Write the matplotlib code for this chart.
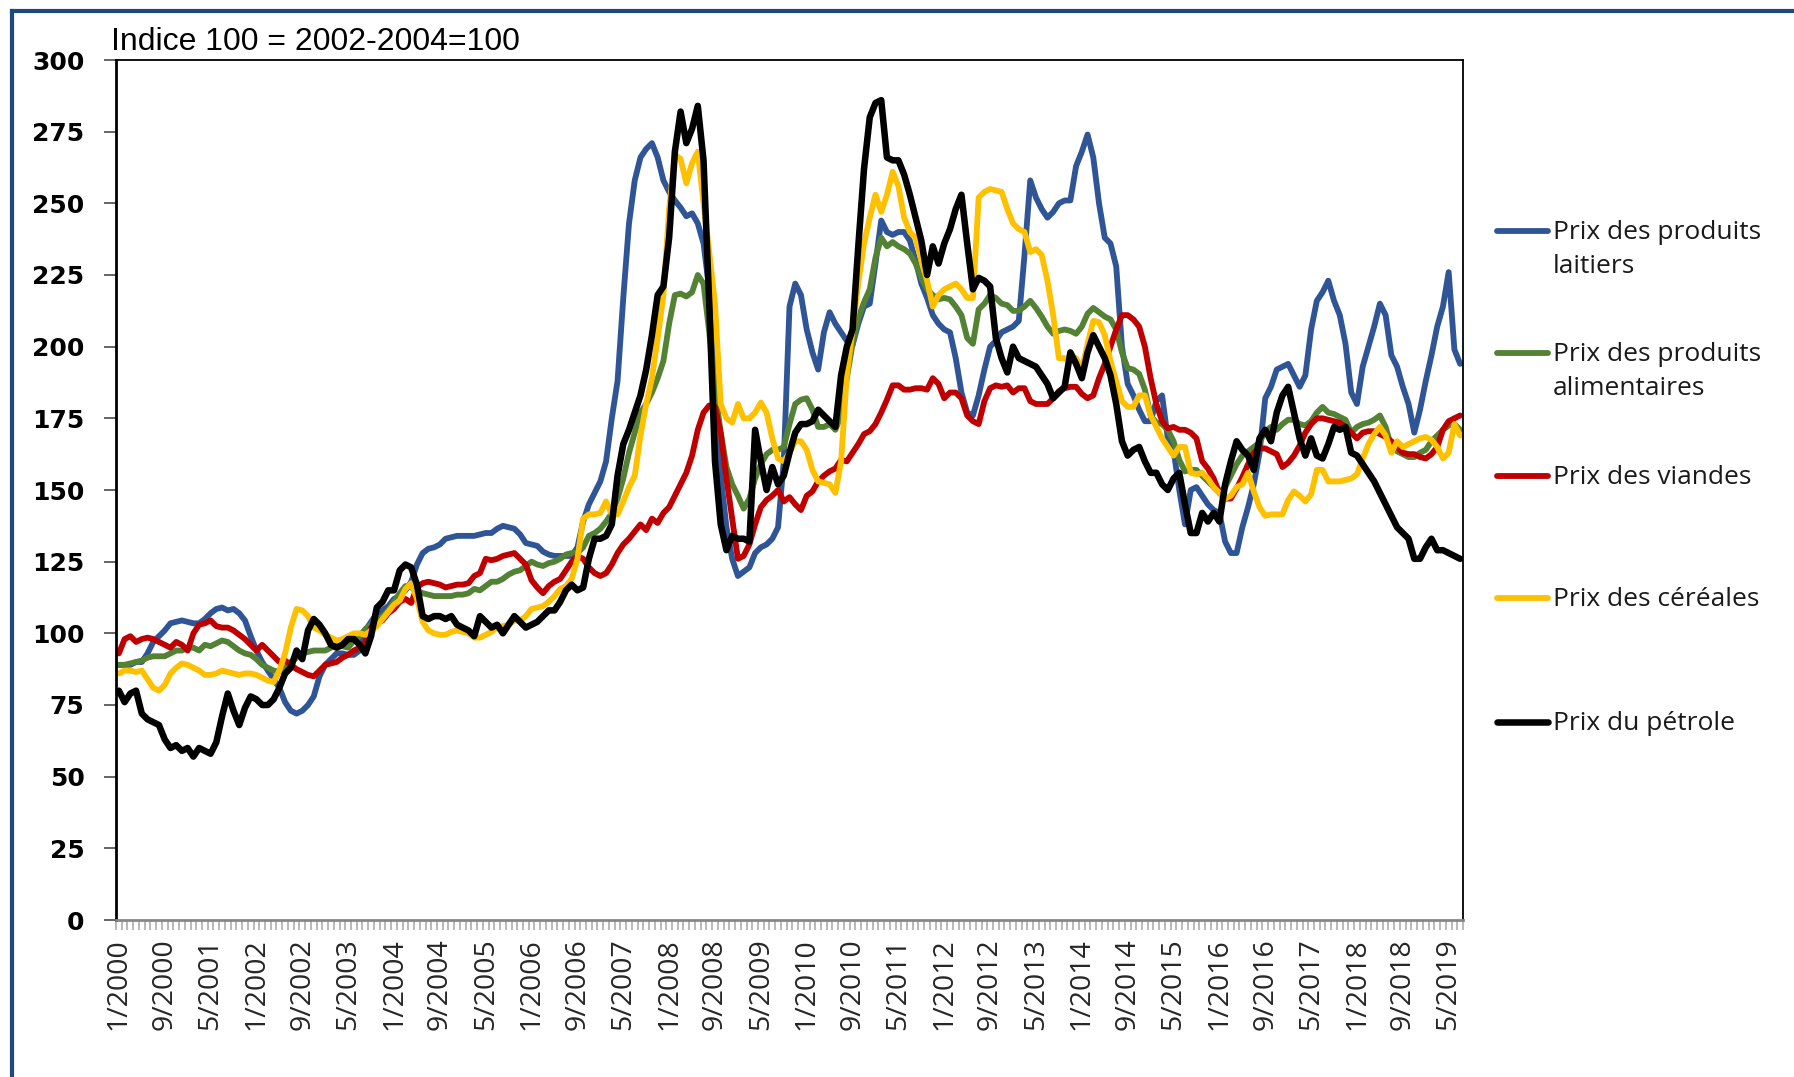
import matplotlib
matplotlib.use('Agg')
import matplotlib.pyplot as plt
from matplotlib.lines import Line2D
import numpy as np

# monthly values 1/2000 -> 7/2019, indice 2002-2004=100 (one row = one year)
laitiers = [
    89, 89, 89, 90, 90, 93, 97, 99, 101, 103.5, 104, 104.5,
    104, 103.5, 103.5, 105, 107, 108.5, 109, 108, 108.5, 107, 104.5, 99,
    94, 90, 87, 84, 81, 76, 73, 72, 73, 75, 78, 85,
    89, 91, 93, 93, 92.5, 92.5, 94, 101, 104, 107, 108, 109.5,
    112, 113, 115, 118, 124, 128, 129.5, 130, 131, 133, 133.5, 134,
    134, 134, 134, 134.5, 135, 135, 136.5, 137.5, 137, 136.5, 134.5, 131.5,
    131, 130.5, 128.5, 127.5, 127, 127, 127, 127, 130, 139, 145, 149,
    153, 160, 175, 188, 217, 243, 258, 266, 269, 271, 266, 258,
    254, 251, 248.5, 245.5, 246.5, 243, 236, 220, 189, 155, 137, 126,
    120, 121.5, 123, 128, 130, 131, 133, 137, 160, 214, 222, 218,
    206, 198, 192, 205, 212, 208, 205, 202, 200.5, 208, 214, 215,
    229, 244, 240, 239, 240, 240, 237, 230, 222, 217, 211, 208,
    206, 205, 196, 184, 177, 176, 183, 192, 200, 202, 205, 206,
    207, 209, 232, 258, 252, 248, 245, 247, 250, 251, 251, 263,
    268, 274, 266, 250, 238, 236, 228, 200, 187, 183, 178, 174,
    174, 181, 183, 168, 164, 150, 138, 150, 151, 148, 145, 143,
    142, 132, 128, 128, 137, 144, 152, 163, 182, 186, 192, 193,
    194, 190, 186, 190, 206, 216, 219, 223, 216, 211, 201, 184,
    180, 193, 200, 207, 215, 211, 197, 193, 186, 180, 170, 178,
    188, 197, 207, 214, 226, 199, 194,
]

alimentaires = [
    89, 89, 89.5, 90, 90.5, 91.5, 92, 92, 92, 93, 94, 94,
    95, 95, 94, 96, 95.5, 96.5, 97.5, 97, 95.5, 94, 93, 92.5,
    91, 89, 88, 87, 86.5, 88, 90, 91.5, 93, 93.5, 94, 94,
    94, 95, 96, 95.5, 95, 97.5, 99, 101.5, 103, 104.5, 106, 108,
    111, 114, 116.5, 116, 115, 114, 113.5, 113, 113, 113, 113, 113.5,
    113.5, 114, 115.5, 115, 116.5, 118, 118, 119, 120.5, 121.5, 122, 123.5,
    125, 124, 123.5, 124.5, 125, 126, 127.5, 128, 128, 130, 134, 135,
    136.5, 139, 142, 147, 154, 163, 170, 177, 180, 184, 189, 195,
    208, 218, 218.5, 217.5, 219, 225, 222, 205, 185, 170, 158, 152,
    148, 143.5, 147, 154, 159, 162.5, 164, 164, 165, 173, 180, 181.5,
    182, 178, 172, 172, 173, 171, 176, 189, 201, 210, 215.5, 220,
    231, 238, 235, 236.5, 235, 234, 232.5, 229, 224, 220, 218, 216.5,
    217, 216.5, 214, 211, 203, 201, 213, 215, 218, 217, 215, 214.5,
    212.5, 212.5, 214, 216, 213.5, 210.5, 207, 204.5, 205.5, 206, 205.5, 204.5,
    207, 211.5, 213.5, 212, 210.5, 209.5, 206, 198, 192.5, 192, 190.5, 185,
    176, 173.5, 173, 171, 167, 160.5, 156.5, 157, 157, 155, 153, 151,
    149, 151, 155, 159, 162, 163.5, 165, 166.5, 170.5, 172, 171, 173,
    174.5, 174.5, 173, 172.5, 174, 177, 179, 177, 176.5, 175.5, 174.5, 170,
    172, 173, 173.5, 174.5, 176, 172, 165, 163.5, 162.5, 161.5, 161.5, 163,
    164, 167, 169, 171, 172.5, 173, 171,
]

viandes = [
    93, 98, 99, 97, 98, 98.5, 98, 97, 96, 95, 97, 96,
    94, 100, 103, 103.5, 104.5, 102.5, 102, 102, 101, 99.5, 98, 96,
    94, 96, 94, 92, 90, 90.5, 89, 87.5, 86.5, 85.5, 85, 87,
    89, 89.5, 90, 91.5, 92.5, 94, 95, 97, 102, 103.5, 104.5, 107,
    108.5, 111, 112, 110.6, 116, 117.5, 118, 117.5, 117, 116, 116.5, 117,
    117, 117.5, 120, 121, 126, 125.5, 126, 127, 127.5, 128, 126, 124,
    118.5, 116, 114, 116.5, 118, 119, 122, 125, 127, 126, 123, 121,
    120, 121, 124, 128, 131, 133, 135.5, 138, 136, 140, 138.5, 142,
    144, 148, 152, 156, 162, 171, 177, 179.5, 179, 170, 154, 140,
    126, 127, 131, 138, 144, 146.5, 148, 150, 146, 147.5, 145, 143,
    148, 149.5, 153, 155, 156.5, 157.5, 160.5, 160, 163, 166, 169.5, 170.5,
    173, 177, 181.5, 186.5, 186.5, 185, 185, 185.5, 185.5, 185, 189, 187,
    182, 184, 184, 182, 176, 174, 173, 181, 185.5, 186.5, 186, 186.5,
    184, 185.5, 185.5, 181, 180, 180, 180, 182, 184.5, 185.5, 186, 186,
    183.5, 182, 183, 189, 194, 200, 206, 211, 211, 209.5, 207, 200,
    189, 180, 174, 171.5, 172, 171, 171, 170, 168, 160, 157.5, 154,
    149, 147, 147, 150.5, 154.5, 159, 163, 164.5, 164.5, 163.5, 162.5, 158,
    159.5, 162, 165.5, 170, 173, 175, 175, 174.5, 174, 173.5, 172, 170,
    168, 170, 170.5, 170.5, 169.5, 168.5, 167, 165, 163, 162.5, 162.5, 161.5,
    161, 162.5, 165, 171, 174, 175, 176,
]

cereales = [
    86, 87, 87, 86.5, 87, 84, 81, 80, 82, 86, 88, 89.5,
    89, 88, 87, 85.5, 85.5, 86, 87, 86.5, 86, 85.5, 86, 86,
    85.5, 84.5, 83.5, 83, 87, 93, 102, 108.5, 108, 106, 102, 101,
    99.5, 98.5, 97.5, 98, 99, 100, 100, 99.5, 101, 102.5, 105, 107.5,
    110, 111.5, 115.5, 117.5, 112, 104, 101, 100, 99.5, 99.5, 100.5, 101,
    100.5, 100, 98.5, 98.5, 99.5, 100.5, 102, 102.5, 103, 104.5, 104.5, 106,
    108.5, 109, 109.5, 111, 113, 115.5, 116.5, 119, 126, 140, 141.5, 141.5,
    142, 146, 141.5, 141.5, 146, 151, 155, 169, 180, 189, 203, 218,
    248, 267, 265.5, 257, 264, 268, 250, 233, 215, 180, 175, 173.5,
    180, 175, 175, 177, 180.5, 177, 168, 161, 160, 163, 167, 167,
    164, 157, 153, 152.5, 152, 149, 160, 190, 206, 222, 236, 245,
    253, 247, 253, 261, 256, 245, 240, 238, 230, 223, 214, 218,
    220, 221, 222, 220, 217, 217, 252, 254, 255, 254.5, 254, 248,
    243, 241, 240, 233, 234, 232, 223, 211, 196, 196, 195, 196,
    192, 201, 209, 208.5, 204, 195, 188, 181, 179, 179, 183, 183,
    176, 172, 168, 165, 162, 165, 165, 156, 155.5, 156, 154, 151,
    149, 147, 148, 151, 152, 156, 149.5, 144, 141, 141.5, 141.5, 141.5,
    146.5, 149.5, 148, 146, 148.5, 157, 157, 153, 153, 153, 153.5, 154,
    155.5, 161, 166, 169.5, 172, 169, 163, 167, 165, 166, 167, 168,
    168.5, 167.5, 165, 161, 163, 173, 169,
]

petrole = [
    80, 76, 79, 80, 72, 70, 69, 68, 63, 60, 61, 59,
    60, 57, 60, 59, 58, 62, 71, 79, 73, 68, 74, 78,
    77, 75, 75, 77, 81, 86, 88, 94, 91, 101, 105, 103,
    100, 96, 95, 96, 98, 98, 96, 93, 99, 109, 111, 115,
    115, 122, 124, 123, 117, 106, 105, 106, 106, 105, 106, 103,
    102, 101, 99, 106, 104, 102, 103, 100, 103, 106, 104, 102,
    103, 104, 106, 108, 108, 111, 115, 117, 115, 116, 126, 133,
    133, 134, 138, 155, 166, 171, 177, 183, 192, 204, 218, 221,
    238, 268, 282, 271, 276, 284, 265, 215, 160, 138, 129, 134,
    133, 133, 132, 171, 160, 150, 158, 152, 155, 163, 170, 173,
    173, 174, 178, 176, 174, 172, 190, 200, 206, 235, 262, 280,
    285, 286, 266, 265, 265, 260, 253, 245, 237, 225, 235, 229,
    236, 241, 248, 253, 236, 220, 224, 223, 221, 203, 196, 191,
    200, 196, 195, 194, 193, 190, 187, 182, 184, 186, 198, 194,
    189, 198, 204, 200, 196, 190, 180, 167, 162, 164, 165, 160,
    156, 156, 152, 150, 154, 156, 145, 135, 135, 142, 139, 142,
    139, 152, 160, 167, 164, 162, 157, 168, 171, 167, 177, 183,
    186, 177, 168, 162, 168, 162, 161, 166, 172, 171, 172, 163,
    162, 159, 156, 153, 149, 145, 141, 137, 135, 133, 126, 126,
    130, 133, 129, 129, 128, 127, 126,
]

tick_labels = ['1/2000', '9/2000', '5/2001', '1/2002', '9/2002', '5/2003',
               '1/2004', '9/2004', '5/2005', '1/2006', '9/2006', '5/2007',
               '1/2008', '9/2008', '5/2009', '1/2010', '9/2010', '5/2011',
               '1/2012', '9/2012', '5/2013', '1/2014', '9/2014', '5/2015',
               '1/2016', '9/2016', '5/2017', '1/2018', '9/2018', '5/2019']
tick_step = 8

series = [
    (['Prix des produits', 'laitiers'], laitiers, '#2F5597', 4.2),
    (['Prix des produits', 'alimentaires'], alimentaires, '#548235', 4.2),
    (['Prix des viandes'], viandes, '#C00000', 4.2),
    (['Prix des céréales'], cereales, '#FFC000', 4.2),
    (['Prix du pétrole'], petrole, '#000000', 4.7),
]

W, H = 1794, 1077
fx = lambda x: x / W
fy = lambda y: 1 - y / H

fig = plt.figure(figsize=(W / 100, H / 100), dpi=100)
ax = fig.add_axes([fx(116), fy(920), fx(1463) - fx(116), fy(60) - fy(920)])

months = np.arange(len(petrole))
for names, vals, color, lw in series:
    ax.plot(months, vals, color=color, lw=lw,
            solid_joinstyle='round', solid_capstyle='round')

ax.set_xlim(-0.5, len(months) - 0.5)
ax.set_ylim(0, 300)
ax.set_yticks(range(0, 301, 25))
ax.tick_params(axis='y', length=8.6, width=1.3, color='#595959', pad=14,
               labelsize=18)
for t in ax.get_yticklabels():
    t.set_fontweight('bold')
    t.set_family('DejaVu Sans')

ax.set_xticks(months[::tick_step])
ax.set_xticklabels(tick_labels, rotation=90, fontsize=20.5, family='Open Sans',
                   color='#262626')
ax.set_xticks(np.arange(-0.5, len(months), 1), minor=True)
ax.tick_params(axis='x', which='major', length=0, pad=13)
ax.tick_params(axis='x', which='minor', length=7, width=1.1, color='#A6A6A6')

for side in ['left', 'top', 'right']:
    ax.spines[side].set_color('black')
ax.spines['left'].set_linewidth(2)
ax.spines['top'].set_linewidth(1.3)
ax.spines['right'].set_linewidth(1.3)
ax.spines['bottom'].set_color('#868686')
ax.spines['bottom'].set_linewidth(2)

fig.text(fx(111), fy(50), 'Indice 100 = 2002-2004=100', fontsize=23,
         family='Liberation Sans', va='baseline')

# legend drawn on the right
legend_y = [231, 353, 476, 598, 722]
for (names, vals, color, lw), y in zip(series, legend_y):
    fig.add_artist(Line2D([fx(1497), fx(1548)], [fy(y), fy(y)], color=color,
                          lw=lw, solid_capstyle='round'))
    for i, name in enumerate(names):
        fig.text(fx(1553), fy(y + 8 + 34 * i), name, fontsize=19,
                 family='Open Sans', va='baseline', color='#1a1a1a')

# dark blue frame, left and top
fig.add_artist(Line2D([fx(12), fx(12)], [0, fy(11)], color='#1F497D', lw=3))
fig.add_artist(Line2D([fx(12), 1], [fy(11), fy(11)], color='#1F497D', lw=3))

fig.savefig('out.png', dpi=100)
